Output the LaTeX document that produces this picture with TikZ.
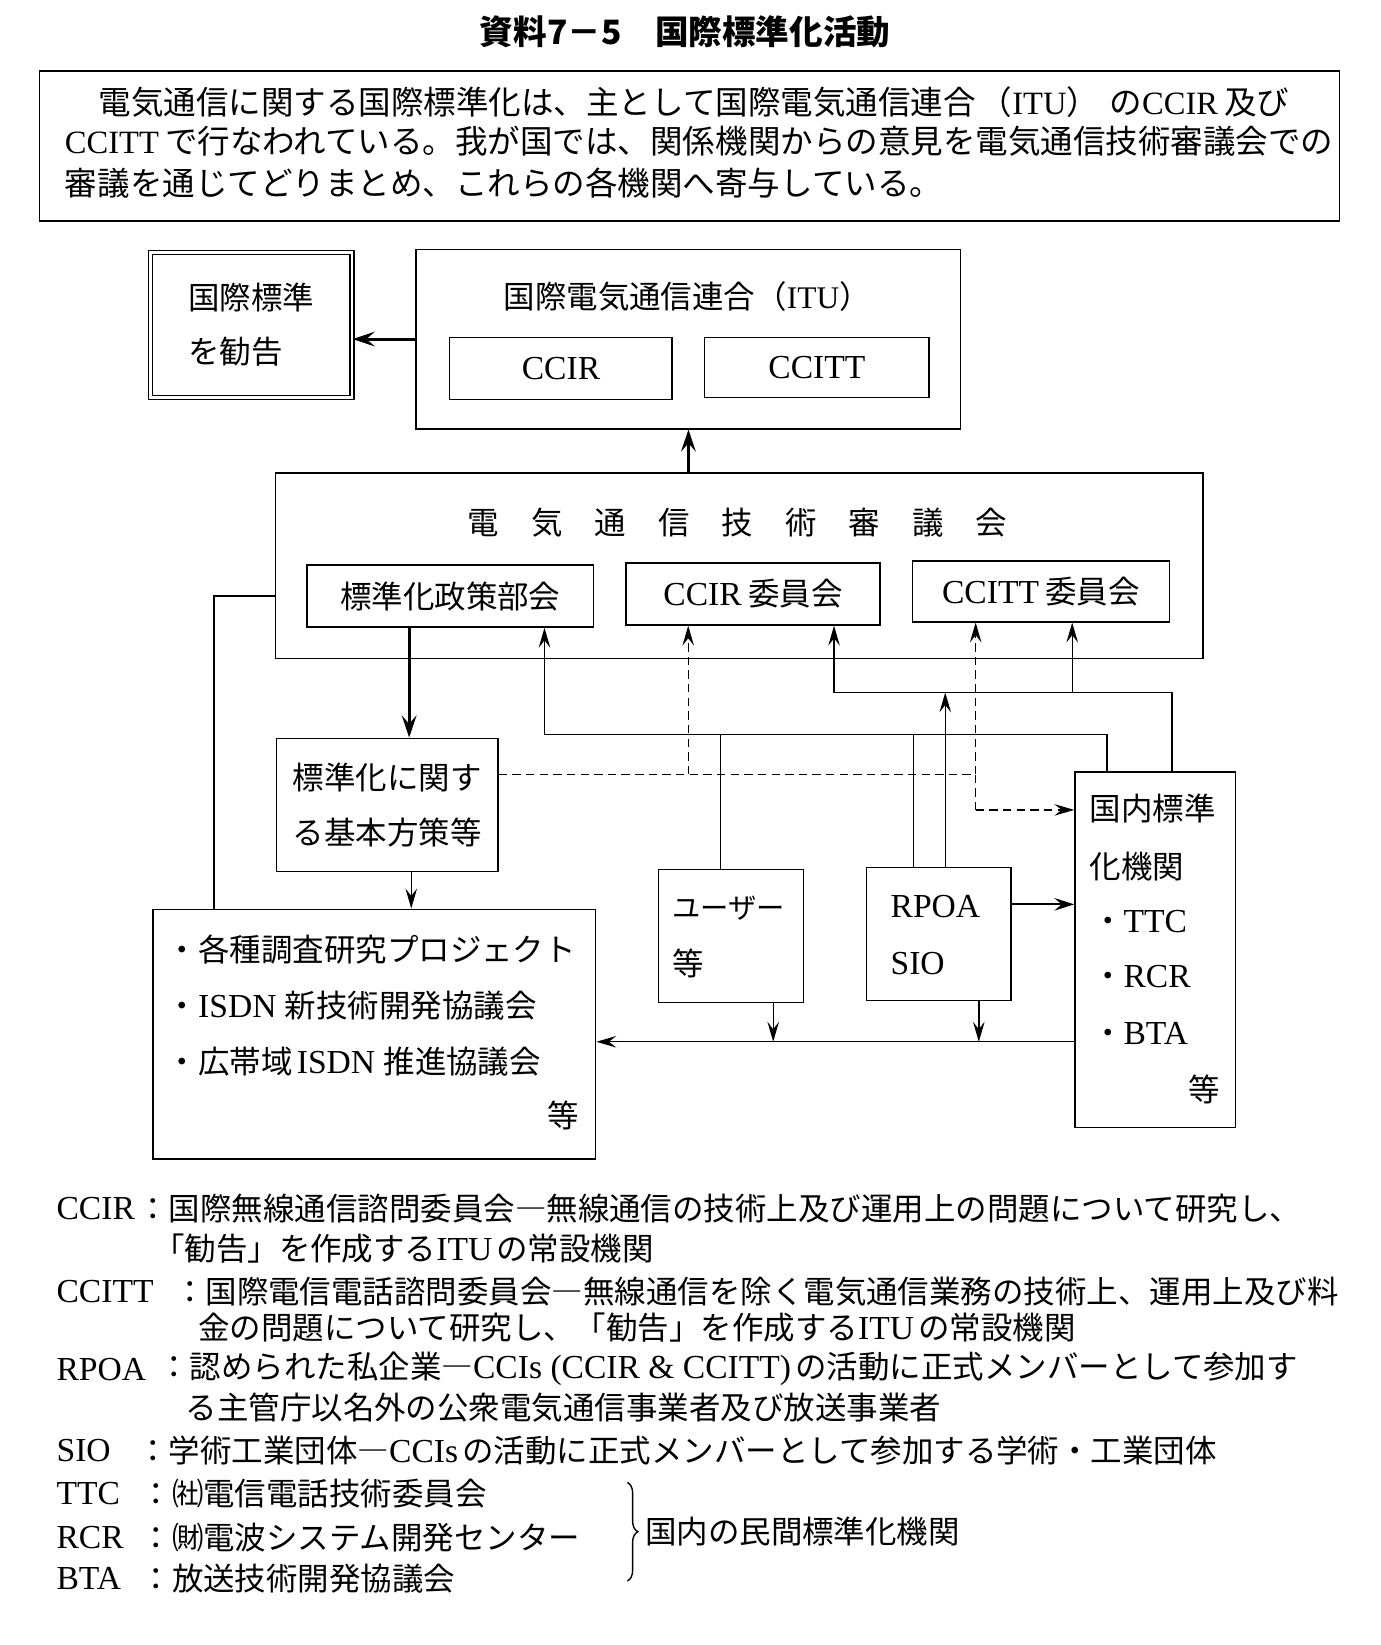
\documentclass[tikz,border=0pt]{standalone}
\usepackage{fontspec}
\setmainfont{Noto Sans CJK JP}
\newfontfamily\latn{Liberation Serif}
\usetikzlibrary{arrows.meta,decorations.pathreplacing}

\begin{document}
\begin{tikzpicture}[x=1pt,y=1pt,yscale=-1,
	font=\fontsize{30}{52}\selectfont,
	box/.style={draw, line width=1.4pt, inner sep=0pt, anchor=north west, align=center},
	txt/.style={anchor=west, inner sep=0.75pt},
	latin/.style={txt, font=\latn\fontsize{32}{40}\selectfont},
	conn/.style={line width=1.3pt},
	arr/.style={conn, -{Stealth[length=19pt,width=11pt,inset=7pt]}},
	bigarr/.style={line width=2.8pt, -{Stealth[length=21pt,width=14pt,inset=8pt]}},
	dsh/.style={conn, dash pattern=on 8pt off 5pt},
	dsharr/.style={arr, dash pattern=on 8pt off 5pt}]
	\useasboundingbox (0,0) rectangle (1316,1568);
	
	% Title
	\node (title) at (653,30) {\fontsize{32}{40}\selectfont\bfseries 資料7－5　国際標準化活動};
	
	% Shape: Rectangle [intro]
	\node[box, minimum width=1239pt, minimum height=143pt] (intro) at (37,67) {};
	% Text Node
	\node[txt, font=\fontsize{31}{40}\selectfont] (intro1) at (93,97) {電気通信に関する国際標準化は、主として国際電気通信連合\hspace{4pt}（{\latn ITU}）\hspace{10pt}の{\latn CCIR}\hspace{6pt}及び};
	% Text Node
	\node[txt, font=\fontsize{31}{40}\selectfont] (intro2) at (61,135) {{\latn CCITT}\hspace{6pt}で行なわれている。我が国では、関係機関からの意見を電気通信技術審議会での};
	% Text Node
	\node[txt, font=\fontsize{31}{40}\selectfont] (intro3) at (61,175) {審議を通じてどりまとめ、これらの各機関へ寄与している。};
	
	% Shape: Rectangle [ITU]
	\node[box, minimum width=519pt, minimum height=171pt] (itu) at (396,237) {};
	\node (itut) at (655,283) {国際電気通信連合（{\latn ITU}）};
	\node[box, minimum width=212pt, minimum height=59pt, font=\latn\fontsize{32}{40}\selectfont] (ccir) at (428,321) {CCIR};
	\node[box, minimum width=214pt, minimum height=57pt, font=\latn\fontsize{32}{40}\selectfont] (ccitt) at (671,321) {CCITT};
	
	% Shape: Double Rectangle [recommendation]
	\node[box, double, double distance=2.6pt, line width=1.2pt, minimum width=192pt, minimum height=138pt, align=left] (rec) at (143,240) {国際標準\\を勧告};
	
	% Shape: Rectangle [council]
	\node[box, minimum width=884pt, minimum height=177pt] (tgc) at (262,450) {};
	\node (tgct) at (703,498) {電\hspace{30.5pt}気\hspace{30.5pt}通\hspace{30.5pt}信\hspace{30.5pt}技\hspace{30.5pt}術\hspace{30.5pt}審\hspace{30.5pt}議\hspace{30.5pt}会};
	\node[box, minimum width=273pt, minimum height=59pt] (std) at (292,538) {標準化政策部会};
	\node[box, minimum width=242pt, minimum height=59pt] (ccirc) at (596,536) {{\latn\fontsize{32}{40}\selectfont CCIR}\hspace{6pt}委員会};
	\node[box, minimum width=245pt, minimum height=58pt] (ccittc) at (869,534) {{\latn\fontsize{32}{40}\selectfont CCITT}\hspace{6pt}委員会};
	
	% Shape: Rectangle [basic policy]
	\node[box, minimum width=211pt, minimum height=127pt] (basic) at (263,703) {標準化に関す\\る基本方策等};
	
	% Shape: Rectangle [projects]
	\node[box, minimum width=422pt, minimum height=238pt] (proj) at (145,866) {};
	\node[txt] (proj1) at (158,905) {・各種調査研究プロジェクト};
	\node[txt] (proj2) at (158,959) {・{\latn\fontsize{32}{40}\selectfont ISDN}\hspace{8pt}新技術開発協議会};
	\node[txt] (proj3) at (158,1012) {・広帯域\hspace{4pt}{\latn\fontsize{32}{40}\selectfont ISDN}\hspace{8pt}推進協議会};
	\node[txt] (proj4) at (521,1063) {等};
	
	% Shape: Rectangle [users]
	\node[box, minimum width=138pt, minimum height=127pt] (user) at (627,828) {};
	\node[txt, font=\fontsize{27}{40}\selectfont] (user1) at (640,866) {ユーザー};
	\node[txt] (user2) at (640,918) {等};
	
	% Shape: Rectangle [RPOA]
	\node[box, minimum width=138pt, minimum height=127pt] (rpoa) at (825,826) {};
	\node[latin] (rpoa1) at (848,864) {RPOA};
	\node[latin] (rpoa2) at (848,918) {SIO};
	
	% Shape: Rectangle [domestic]
	\node[box, minimum width=153pt, minimum height=339pt] (dom) at (1024,735) {};
	\node[txt] (dom1) at (1038,771) {国内標準};
	\node[txt] (dom2) at (1038,826) {化機関};
	\node[txt] (dom3) at (1040,878) {・{\latn\fontsize{32}{40}\selectfont TTC}};
	\node[txt] (dom4) at (1040,931) {・{\latn\fontsize{32}{40}\selectfont RCR}};
	\node[txt] (dom5) at (1040,985) {・{\latn\fontsize{32}{40}\selectfont BTA}};
	\node[txt] (dom6) at (1132,1038) {等};
	
	% Junctions
	\coordinate (l1) at (204,568);
	\coordinate (s1) at (390,650);
	\coordinate (s2) at (392,850);
	\coordinate (b1) at (519,700);
	\coordinate (b2) at (687,700);
	\coordinate (b3) at (871,700);
	\coordinate (b4) at (1055,700);
	\coordinate (u1) at (795,660);
	\coordinate (u2) at (901,660);
	\coordinate (u3) at (1022,660);
	\coordinate (u4) at (1117,660);
	\coordinate (d1) at (656,738);
	\coordinate (d2) at (930,738);
	\coordinate (d3) at (930,772);
	\coordinate (r2) at (990,862);
	\coordinate (e1) at (737,993);
	\coordinate (e2) at (933,993);
	
	% Connectors
	\draw[bigarr] (itu.west) -- (itu.west -| rec.east);
	\draw[bigarr] (tgc.north -| itu.south) -- (itu.south);
	\draw[bigarr] (std.south -| s1) -- (basic.north -| s1);
	\draw[arr] (basic.south -| s2) -- (proj.north -| s2);
	\draw[conn] (tgc.west |- l1) -- (l1) -- (l1 |- proj.north);
	
	\draw[arr] (dom.north -| b4) -- (b4) -- (b1) -- (std.south -| b1);
	\draw[conn] (user.north -| b2) -- (b2);
	\draw[conn] (rpoa.north -| b3) -- (b3);
	\draw[arr] (rpoa.north -| u2) -- (u2);
	\draw[arr] (dom.north -| u4) -- (u4) -- (u1) -- (ccirc.south -| u1);
	\draw[arr] (u3) -- (ccittc.south -| u3);
	
	\draw[dsh] (basic.east |- d1) -- (d2) -- (d3);
	\draw[dsharr] (d1) -- (ccirc.south -| d1);
	\draw[dsharr] (d2) -- (ccittc.south -| d2);
	\draw[dsharr] (d3) -- (dom.west |- d3);
	
	\draw[line width=2pt, -{Stealth[length=19pt,width=12pt,inset=7pt]}] (rpoa.east |- r2) -- (dom.west |- r2);
	\draw[arr] (dom.west |- e2) -- (proj.east |- e2);
	\draw[arr] (user.south -| e1) -- (e1);
	\draw[arr] (rpoa.south -| e2) -- (e2);
	
	% Legend
	\node[latin] (k1) at (53,1152) {CCIR};
	\node[txt] (k1a) at (130,1152) {：国際無線通信諮問委員会―無線通信の技術上及び運用上の問題について研究し、};
	\node[txt] (k1b) at (145,1190) {「勧告」を作成する{\latn\fontsize{32}{40}\selectfont ITU}\hspace{4pt}の常設機関};
	\node[latin] (k2) at (53,1231) {CCITT};
	\node[txt] (k2a) at (165,1231) {：国際電信電話諮問委員会―無線通信を除く電気通信業務の技術上、運用上及び料};
	\node[txt] (k2b) at (188,1265) {金の問題について研究し、「勧告」を作成する{\latn\fontsize{32}{40}\selectfont ITU}\hspace{4pt}の常設機関};
	\node[latin] (k3) at (53,1305) {RPOA};
	\node[txt] (k3a) at (150,1305) {：認められた私企業―{\latn\fontsize{32}{40}\selectfont CCIs (CCIR \& CCITT)}\hspace{4pt}の活動に正式メンバーとして参加す};
	\node[txt] (k3b) at (176,1342) {る主管庁以名外の公衆電気通信事業者及び放送事業者};
	\node[latin] (k4) at (53,1383) {SIO};
	\node[txt] (k4a) at (130,1383) {：学術工業団体―{\latn\fontsize{32}{40}\selectfont CCIs}\hspace{4pt}の活動に正式メンバーとして参加する学術・工業団体};
	\node[latin] (k5) at (53,1424) {TTC};
	\node[txt] (k5a) at (133,1424) {：㈳電信電話技術委員会};
	\node[latin] (k6) at (53,1466) {RCR};
	\node[txt] (k6a) at (133,1466) {：㈶電波システム開発センター};
	\node[latin] (k7) at (53,1505) {BTA};
	\node[txt] (k7a) at (133,1505) {：放送技術開発協議会};
	
	% Brace
	\draw[conn, decorate, decoration={brace, amplitude=10pt}] (598,1413) -- (598,1507);
	\node[txt] (priv) at (614,1460) {国内の民間標準化機関};
\end{tikzpicture}
\end{document}
